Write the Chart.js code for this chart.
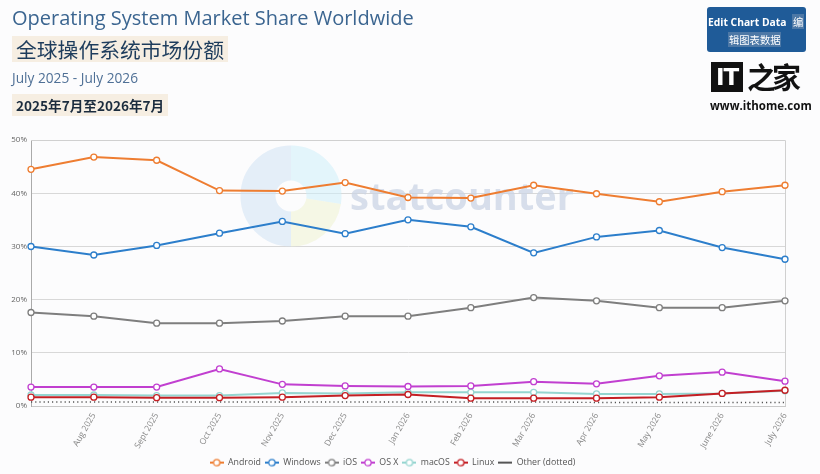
<!DOCTYPE html>
<html>
<head>
<meta charset="utf-8">
<script src="https://cdn.jsdelivr.net/npm/chart.js@4.4.1/dist/chart.umd.min.js"></script>
<style>
  html, body { margin: 0; padding: 0; }
  body { width: 820px; height: 474px; position: relative; overflow: hidden; background: #fcfcfd; font-family: "Open Sans", sans-serif; }
  #wrap { position: absolute; left: 0; top: 0; width: 820px; height: 474px; }
  .t1 { position: absolute; left: 12px; top: 4px; font-size: 20px; color: #3b6590; white-space: nowrap; }
  .t2 { position: absolute; left: 12px; top: 36px; font-size: 20.8px; color: #1d3c5c; background: #f6eee2; padding: 0 4px; line-height: 26px; font-family: "Noto Sans CJK SC", sans-serif; }
  .t3 { position: absolute; left: 12px; top: 68px; font-size: 13.7px; color: #4f7096; white-space: nowrap; }
  .t4 { position: absolute; left: 12px; top: 94px; font-size: 13.6px; color: #1b2c3e; background: #f6eee2; padding: 0 4px; line-height: 22px; font-weight: 600; font-family: "Noto Sans CJK SC", sans-serif; }
  .btn { position: absolute; left: 707px; top: 7px; width: 99px; height: 45px; background: #1f5b98; border-radius: 3px; color: #fff; font-size: 10.3px; }
  .btn .a { position: absolute; left: 1px; top: 8px; font-weight: 700; white-space: nowrap; }
  .btn .b { position: absolute; left: 85px; top: 7px; background: #4d78a6; padding: 0 1px; font-family: "Noto Sans CJK SC", sans-serif; }
  .btn .c { position: absolute; left: 21px; top: 25px; background: #4d78a6; padding: 0 1px; font-family: "Noto Sans CJK SC", sans-serif; white-space: nowrap; }
  .logo { position: absolute; left: 711px; top: 62px; width: 32px; height: 30px; background: #111; color: #fff; font: 900 23px/30px "DejaVu Sans", sans-serif; text-align: center; letter-spacing: -1px; }
  .logo2 { position: absolute; left: 747px; top: 58px; font: 700 29px/36px "Noto Sans CJK SC", serif; color: #111; letter-spacing: -4px; }
  .url { position: absolute; left: 710px; top: 98px; font-size: 11.5px; font-weight: 700; color: #111; white-space: nowrap; }
</style>
</head>
<body>
<div id="wrap"><canvas id="chart" width="820" height="474"></canvas></div>
<div class="t1">Operating System Market Share Worldwide</div>
<div class="t2">全球操作系统市场份额</div>
<div class="t3">July 2025 - July 2026</div>
<div class="t4">2025年7月至2026年7月</div>
<div class="btn"><span class="a">Edit Chart Data</span><span class="b">编</span><span class="c">辑图表数据</span></div>
<div class="logo">IT</div>
<div class="logo2">之家</div>
<div class="url">www.ithome.com</div>
<script>
const months = ['', 'Aug 2025', 'Sept 2025', 'Oct 2025', 'Nov 2025', 'Dec 2025', 'Jan 2026', 'Feb 2026', 'Mar 2026', 'Apr 2026', 'May 2026', 'June 2026', 'July 2026'];
const android = [44.5, 46.8, 46.2, 40.5, 40.4, 42.0, 39.2, 39.1, 41.5, 39.9, 38.4, 40.3, 41.5];
const windows = [30.0, 28.4, 30.2, 32.5, 34.7, 32.4, 35.0, 33.7, 28.8, 31.8, 33.0, 29.8, 27.6];
const ios = [17.6, 16.9, 15.6, 15.6, 16.0, 16.9, 16.9, 18.5, 20.4, 19.8, 18.5, 18.5, 19.8];
const osx = [3.6, 3.6, 3.6, 7.0, 4.1, 3.8, 3.7, 3.8, 4.6, 4.2, 5.7, 6.4, 4.7];
const macos = [2.1, 2.1, 2.0, 2.0, 2.5, 2.4, 2.6, 2.6, 2.6, 2.3, 2.3, 2.4, 2.9];
const linux = [1.7, 1.7, 1.6, 1.6, 1.7, 2.0, 2.2, 1.5, 1.5, 1.5, 1.7, 2.4, 3.0];
const other = [0.8, 0.8, 0.8, 0.8, 0.8, 0.8, 0.8, 0.8, 0.8, 0.7, 0.7, 0.7, 0.7];
const yTicks = [0, 10, 20, 30, 40, 50];

Chart.defaults.font.family = '"Open Sans", sans-serif';

function series(label, data, color, order) {
  return {
    label: label, data: data, borderColor: color, backgroundColor: '#fff',
    borderWidth: 2, pointRadius: 3, pointBorderWidth: 1.3, pointBackgroundColor: '#fff',
    pointBorderColor: color, tension: 0, order: order
  };
}

// little line+circle icon for the legend
function legendIcon(color, dotted) {
  const c = document.createElement('canvas');
  c.width = 14; c.height = 10;
  const g = c.getContext('2d');
  g.strokeStyle = color;
  g.lineWidth = 2;
  g.beginPath(); g.moveTo(0, 5); g.lineTo(14, 5); g.stroke();
  if (!dotted) {
    g.fillStyle = '#fff';
    g.lineWidth = 1.3;
    g.beginPath(); g.arc(7, 5, 3.2, 0, Math.PI * 2); g.fill(); g.stroke();
  }
  return c;
}

// faint statcounter watermark + plot frame
const decor = {
  id: 'decor',
  afterLayout(chart) {
    // nudge the legend a few px lower, like the original
    chart.legend.top += 3;
    chart.legend.bottom += 3;
  },
  beforeDatasetsDraw(chart) {
    const g = chart.ctx;
    g.save();
    const cx = 291, cy = 196;
    g.globalAlpha = 0.55;
    g.lineWidth = 35;
    g.strokeStyle = '#cfe2f4';
    g.beginPath(); g.arc(cx, cy, 33, Math.PI * 0.5, Math.PI * 1.5); g.stroke();
    g.strokeStyle = '#cdeefa';
    g.beginPath(); g.arc(cx, cy, 33, Math.PI * 1.5, Math.PI * 2.05); g.stroke();
    g.strokeStyle = '#eef3d2';
    g.beginPath(); g.arc(cx, cy, 33, Math.PI * 0.05, Math.PI * 0.5); g.stroke();
    g.globalAlpha = 1;
    g.fillStyle = 'rgba(203,212,228,0.75)';
    g.font = 'bold 38px "Open Sans", sans-serif';
    g.textBaseline = 'middle';
    g.fillText('statcounter', 350, 199);
    g.restore();
    const a = chart.chartArea;
    g.save();
    g.strokeStyle = '#d0d0d0';
    g.lineWidth = 1;
    g.beginPath();
    g.moveTo(a.left, a.top + 0.5); g.lineTo(a.right + 0.5, a.top + 0.5); g.lineTo(a.right + 0.5, a.bottom);
    g.stroke();
    g.restore();
  }
};

const otherSet = {
  label: 'Other (dotted)', data: other, borderColor: '#555', borderWidth: 1.4,
  borderDash: [1.2, 3], pointRadius: 0, order: 3
};

new Chart(document.getElementById('chart'), {
  type: 'line',
  data: {
    labels: months,
    datasets: [
      series('Android', android, '#ee7d31', 0),
      series('Windows', windows, '#2c7ecb', 0),
      series('iOS', ios, '#7e7e7e', 0),
      series('OS X', osx, '#c13fd0', 0),
      series('macOS', macos, '#95d5d0', 1),
      series('Linux', linux, '#c41f24', 0),
      otherSet
    ]
  },
  options: {
    responsive: false,
    animation: false,
    layout: { padding: { left: 0, right: 35, top: 140, bottom: 0 } },
    scales: {
      x: {
        grid: { display: false, drawTicks: false },
        border: { color: '#c8c8c8' },
        ticks: { color: '#888', font: { size: 8.5 }, minRotation: 60, maxRotation: 60, autoSkip: false, padding: 5 },
        afterFit(s) { s.height = 45; }
      },
      y: {
        min: 0, max: 50,
        afterBuildTicks(s) { s.ticks = yTicks.map(v => ({ value: v })); },
        grid: { color: '#d8d8d8', drawTicks: false },
        border: { color: '#aaa' },
        ticks: { color: '#666', font: { size: 8 }, padding: 4, callback: v => v + '%' },
        afterFit(s) { s.width = 31; }
      }
    },
    plugins: {
      tooltip: { enabled: false },
      legend: {
        position: 'bottom',
        labels: {
          color: '#555', font: { size: 8.8 }, padding: 4,
          usePointStyle: true, pointStyleWidth: 14, boxHeight: 9,
          sort: (a, b) => a.datasetIndex - b.datasetIndex,
          generateLabels(chart) {
            const items = Chart.defaults.plugins.legend.labels.generateLabels(chart);
            items.forEach(it => {
              const ds = chart.data.datasets[it.datasetIndex];
              it.pointStyle = legendIcon(ds.borderColor, ds.pointRadius === 0);
              it.lineDash = [];
            });
            return items;
          }
        }
      }
    }
  },
  plugins: [decor]
});
</script>
</body>
</html>
